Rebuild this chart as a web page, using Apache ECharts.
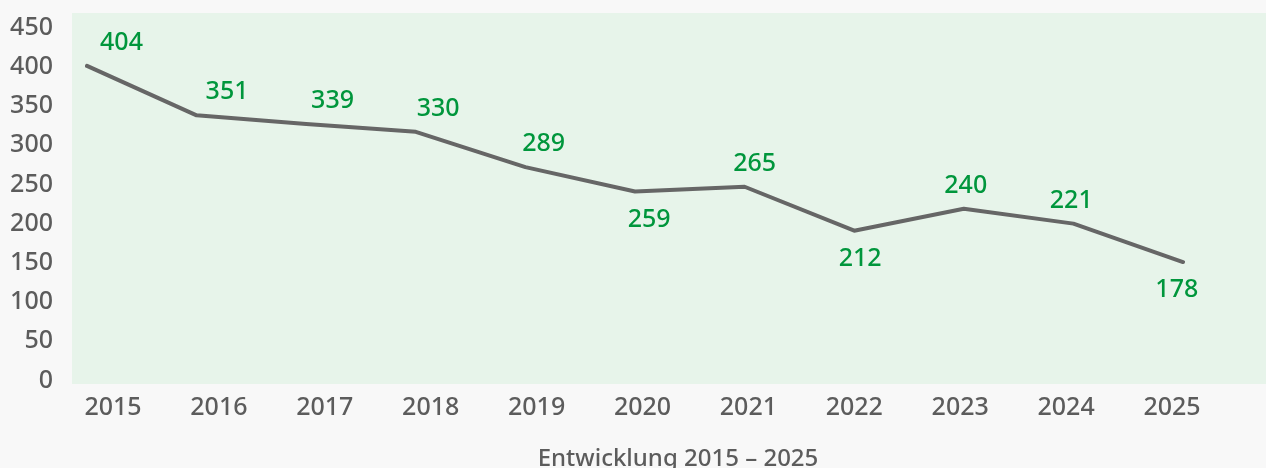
<!DOCTYPE html>
<html>
<head>
<meta charset="utf-8">
<script src="https://cdn.jsdelivr.net/npm/echarts@6/dist/echarts.min.js"></script>
<style>
    html, body { margin: 0; padding: 0; background: #f8f8f8; }
    #chart { width: 1266px; height: 468px; }
</style>
</head>
<body>
<div id="chart"></div>
<script>
var years = ['2015', '2016', '2017', '2018', '2019', '2020', '2021', '2022', '2023', '2024', '2025'];
// Verlauf der Linie (so wie gezeichnet)
var lineValues = [401, 338, 327, 317, 272, 241, 247, 191, 219, 200, 151];
// Beschriftungen an den Punkten
var labelValues = [404, 351, 339, 330, 289, 259, 265, 212, 240, 221, 178];
var chartTitle = 'Entwicklung 2015 \u2013 2025';

var textGray = '#5c5c5c';
var green = '#00963c';
var fontFamily = '"Noto Sans", sans-serif';
var fontSize = 25;
var fontWeight = 500;

var myChart = echarts.init(document.getElementById('chart'));

// Beschriftung unter lokalen Tiefpunkten, sonst darüber
var seriesData = lineValues.map(function (v, i) {
    var prev = i > 0 ? lineValues[i - 1] : Infinity;
    var next = i < lineValues.length - 1 ? lineValues[i + 1] : Infinity;
    var below = v < prev && v < next;
    return {
        value: v,
        label: {
            position: below ? 'bottom' : 'top',
            distance: below ? 15 : 10,
            offset: [34.5 - 4.07 * i, 0]
        }
    };
});

var option = {
    backgroundColor: '#f8f8f8',
    animation: false,
    title: {
        text: chartTitle,
        left: 673,
        textAlign: 'center',
        top: 442,
        textStyle: {
            color: textGray,
            fontFamily: fontFamily,
            fontSize: 24,
            fontWeight: fontWeight
        }
    },
    grid: [
        // Linie
        { left: 87, right: 83, top: 27.5, bottom: 87.5 },
        // grüner Hintergrund
        { left: 72, right: 0, top: 13, bottom: 84, show: true, backgroundColor: '#e7f4ea', borderWidth: 0 },
        // Jahreszahlen
        { left: 113, right: 94, top: 13, bottom: 84 }
    ],
    xAxis: [
        {
            gridIndex: 0,
            type: 'category',
            data: years,
            boundaryGap: false,
            axisLine: { show: false },
            axisTick: { show: false },
            axisLabel: { show: false },
            splitLine: { show: false }
        },
        {
            gridIndex: 1,
            type: 'category',
            data: years,
            show: false
        },
        {
            gridIndex: 2,
            type: 'category',
            data: years,
            boundaryGap: false,
            axisLine: { show: false },
            axisTick: { show: false },
            splitLine: { show: false },
            axisLabel: {
                margin: 11,
                color: textGray,
                fontFamily: fontFamily,
                fontSize: fontSize,
                fontWeight: fontWeight
            }
        }
    ],
    yAxis: [
        {
            gridIndex: 0,
            type: 'value',
            min: 0,
            max: 450,
            interval: 50,
            axisLine: { show: false },
            axisTick: { show: false },
            splitLine: { show: false },
            axisLabel: {
                margin: 34,
                color: textGray,
                fontFamily: fontFamily,
                fontSize: fontSize,
                fontWeight: fontWeight
            }
        },
        { gridIndex: 1, type: 'value', show: false },
        { gridIndex: 2, type: 'value', show: false }
    ],
    series: [
        {
            type: 'line',
            xAxisIndex: 0,
            yAxisIndex: 0,
            data: seriesData,
            symbol: 'circle',
            symbolSize: 1,
            showSymbol: true,
            itemStyle: { color: '#666666' },
            lineStyle: { color: '#666666', width: 4, cap: 'round', join: 'round' },
            label: {
                show: true,
                color: green,
                fontFamily: fontFamily,
                fontSize: fontSize,
                fontWeight: fontWeight,
                formatter: function (params) {
                    return String(labelValues[params.dataIndex]);
                }
            },
            emphasis: { disabled: true },
            z: 3
        }
    ]
};

myChart.setOption(option);
</script>
</body>
</html>
